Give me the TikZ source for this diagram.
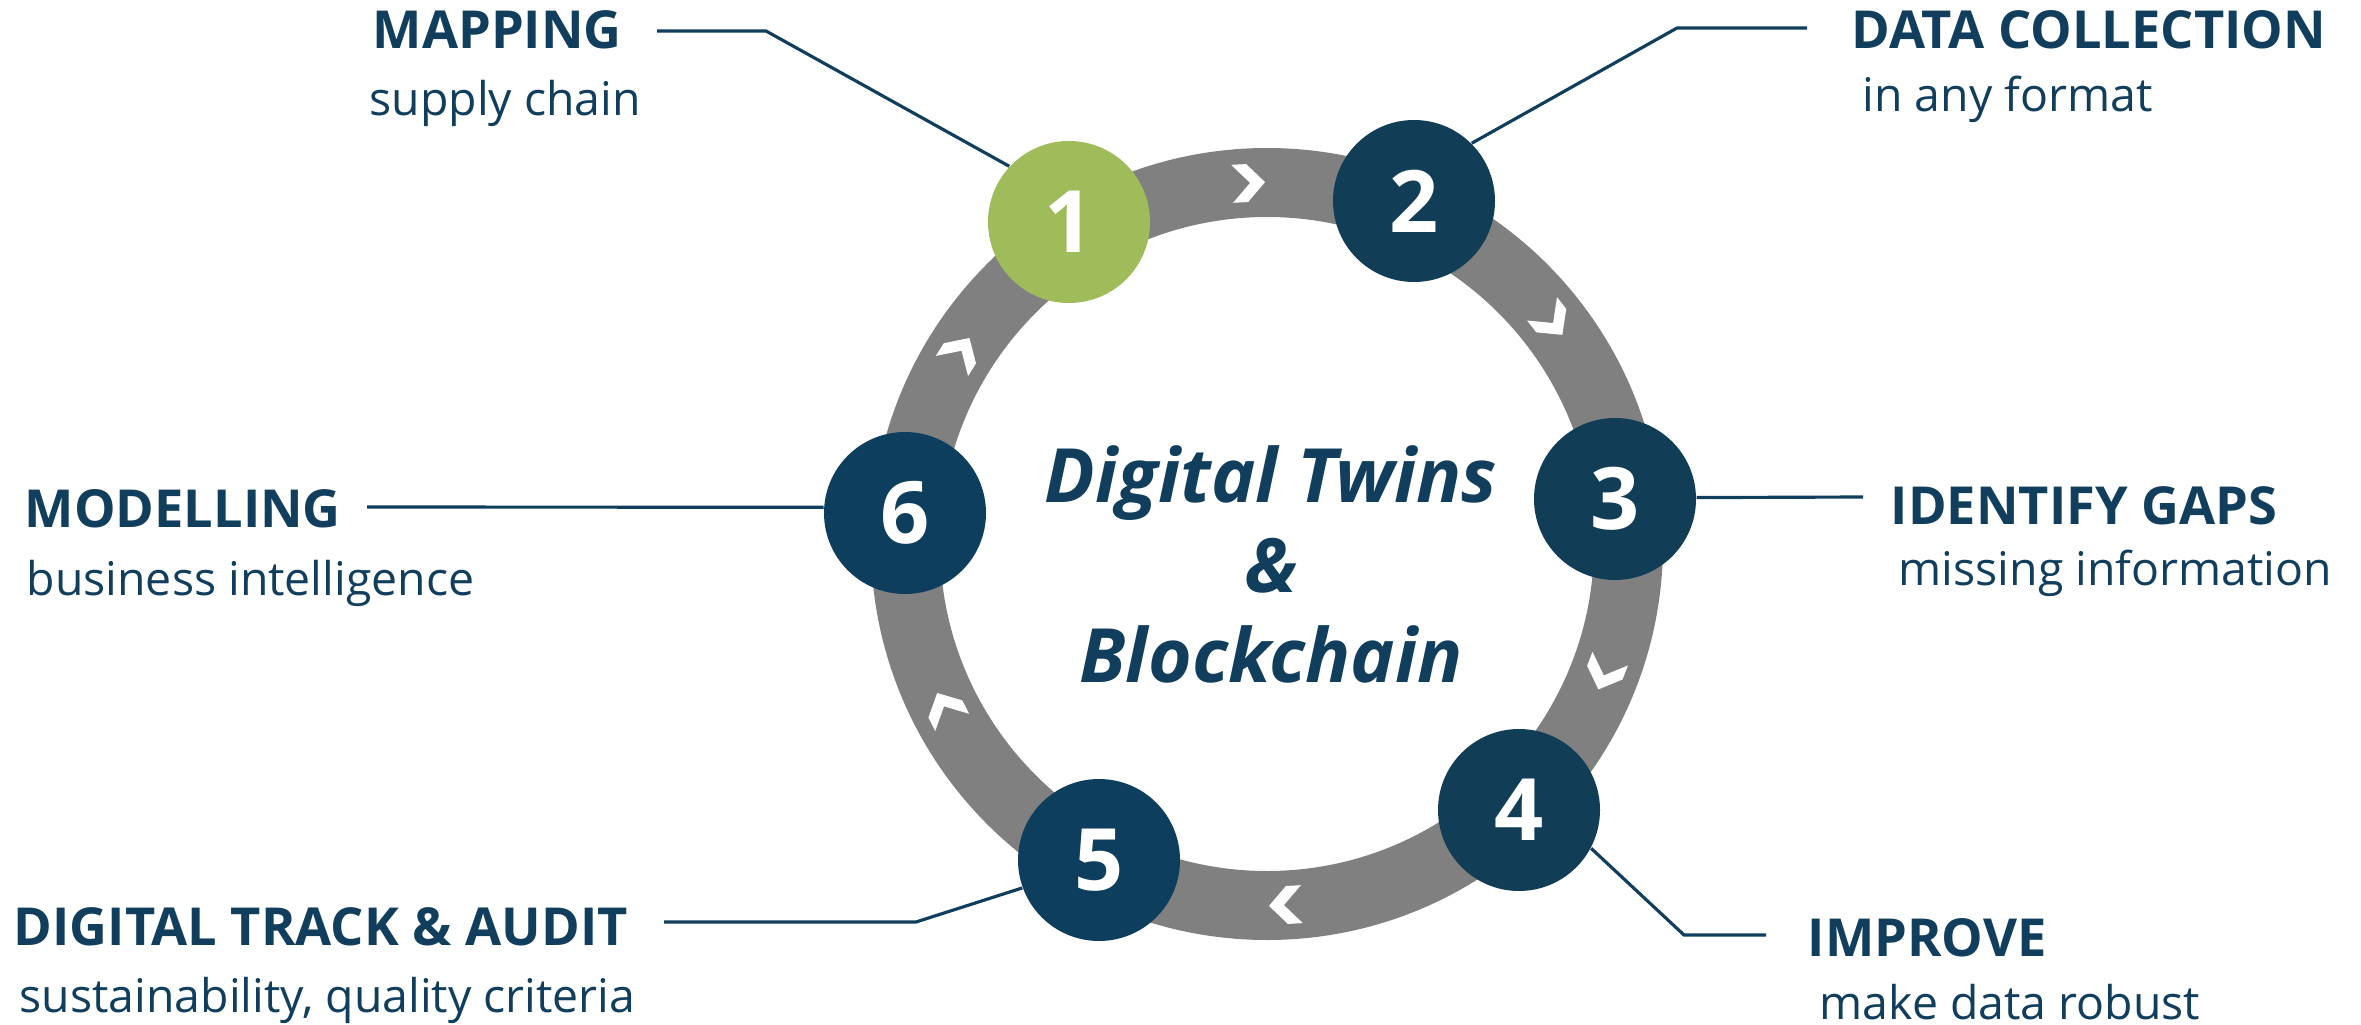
\documentclass[tikz,border=0pt]{standalone}
\usepackage{fontspec}
\setmainfont{Open Sans}
\usepackage{xcolor}
\usepackage{tikz}
\usetikzlibrary{calc,positioning}
\definecolor{ringgray}{RGB}{128,128,128}
\definecolor{stepgreen}{RGB}{159,187,90}
\definecolor{stepnavy}{RGB}{18,61,87}
\definecolor{stepnavyb}{RGB}{13,62,93}
\definecolor{txtnavy}{RGB}{16,62,92}

\begin{document}
\begin{tikzpicture}[
    num/.style={circle, minimum size=1.62cm, inner sep=0, text=white,
        font=\fontsize{24.5}{24.5}\selectfont\bfseries},
    head/.style={anchor=base west, inner sep=0, text=txtnavy,
        font=\fontsize{14.9}{17}\selectfont\bfseries},
    sub/.style={anchor=base west, inner sep=0, text=txtnavy,
        font=\fontsize{13.2}{16}\selectfont},
    lead/.style={draw=txtnavy, line width=0.9pt},
    chev/.pic={\fill[white] (-0.16,0.19) -- (-0.01,0.19) -- (0.17,0) -- (-0.01,-0.19) -- (-0.16,-0.19) -- (0.02,0) -- cycle;}]
\useasboundingbox (0,0) rectangle (23.61,-10.25);

% ring and arrows
\coordinate (ctr) at (12.67,-5.44);
\draw[ringgray, line width=0.69cm] (ctr) circle (3.615);
\foreach \a in {93,38,-21,-87,-153,148}
    \path (ctr) ++(\a:3.615) pic[rotate=\a-90] {chev};

% steps
\node[num, fill=stepgreen] (c1) at (10.69,-2.22) {1};
\node[num, fill=stepnavy]  (c2) at (14.14,-2.01) {2};
\node[num, fill=stepnavy]  (c3) at (16.15,-4.99) {3};
\node[num, fill=stepnavy]  (c4) at (15.19,-8.10) {4};
\node[num, fill=stepnavyb] (c5) at (10.99,-8.60) {5};
\node[num, fill=stepnavyb] (c6) at (9.05,-5.13) {6};

% centre
\node[anchor=base, inner sep=0, align=center, text=txtnavy,
      font=\fontsize{21.3}{25.6}\selectfont\bfseries\itshape] (hub) at (12.71,-6.82)
      {Digital Twins\\\&\\Blockchain};

% labels
\node[head] (t1) at (3.72,-0.49) {MAPPING};
\node[sub]  (s1) at (3.69,-1.16) {supply chain};
\node[head] (t2) at (18.51,-0.49) {DATA COLLECTION};
\node[sub]  (s2) at (18.62,-1.12) {in any format};
\node[head] (t3) at (18.90,-5.24) {IDENTIFY GAPS};
\node[sub]  (s3) at (18.98,-5.85) {missing information};
\node[head] (t4) at (18.07,-9.56) {IMPROVE};
\node[sub]  (s4) at (18.19,-10.19) {make data robust};
\node[head] (t5) at (0.13,-9.45) {DIGITAL TRACK \& AUDIT};
\node[sub]  (s5) at (0.19,-10.12) {sustainability, quality criteria};
\node[head] (t6) at (0.24,-5.27) {MODELLING};
\node[sub]  (s6) at (0.26,-5.95) {business intelligence};

% leader lines
\coordinate (m1) at (6.57,-0.31);  \coordinate (k1) at (7.66,-0.31);
\coordinate (m2) at (18.07,-0.28); \coordinate (k2) at (16.77,-0.28);
\coordinate (m3) at (18.63,-4.97);
\coordinate (m4) at (17.66,-9.35); \coordinate (k4) at (16.84,-9.35);
\coordinate (m5) at (6.64,-9.22);  \coordinate (k5) at (9.16,-9.22);
\coordinate (m6) at (3.67,-5.07);
\draw[lead] (m1) -- (k1) -- (c1.137);
\draw[lead] (m2) -- (k2) -- (c2.45);
\draw[lead] (m3) -- (c3.1);
\draw[lead] (m4) -- (k4) -- (c4.-28);
\draw[lead] (m5) -- (k5) -- (c5.200);
\draw[lead] (m6) -- (c6.176);

\end{tikzpicture}
\end{document}
